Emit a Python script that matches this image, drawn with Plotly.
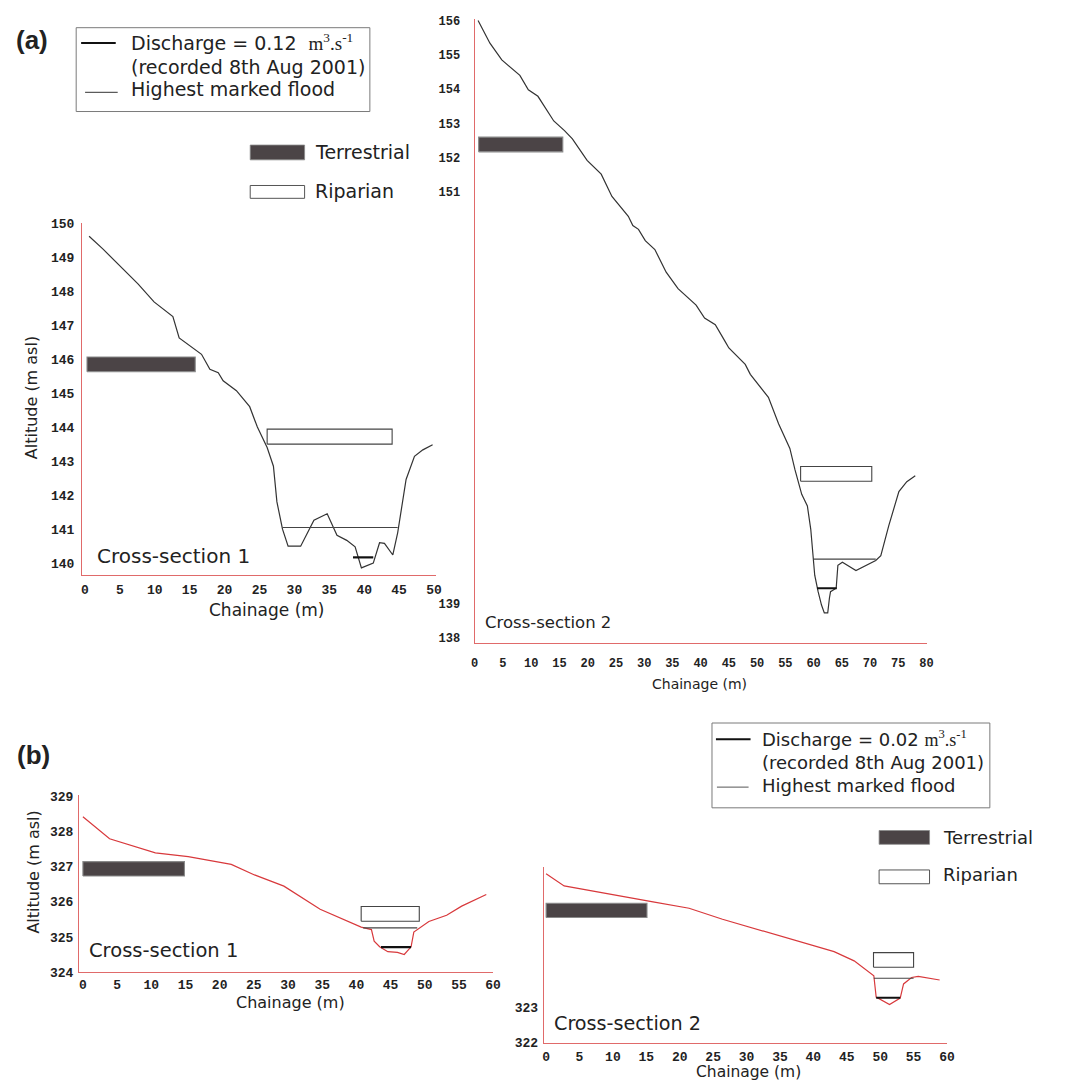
import plotly.graph_objects as go

W, H = 1073, 1091

# ---------------- data ----------------
# (a) Cross-section 1
a1_chainage = [0.6, 2.6, 7.6, 9.9, 12.6, 13.5, 16.7, 17.9, 19.1, 19.8, 21.7, 23.6, 24.7, 26.1, 27.0,
               27.5, 28.3, 29.1, 30.9, 32.8, 34.7, 36.1, 37.5, 38.7, 39.6, 41.3, 42.2, 42.9, 44.1,
               44.8, 46.0, 47.2, 48.4, 49.8]
a1_altitude = [149.61, 149.23, 148.21, 147.68, 147.25, 146.62, 146.14, 145.70, 145.60, 145.36, 145.07,
               144.60, 144.00, 143.40, 142.85, 141.80, 141.00, 140.50, 140.50, 141.26, 141.45, 140.82,
               140.67, 140.48, 139.86, 140.00, 140.60, 140.58, 140.24, 140.90, 142.46, 143.14, 143.33,
               143.48]
a1_flood = [28.3, 44.8, 141.05]
a1_discharge = [38.4, 41.3, 140.17]
a1_terrestrial = [0.3, 15.8, 145.63, 146.06]
a1_riparian = [26.1, 44.0, 143.50, 143.94]
a1_xticks = [0, 5, 10, 15, 20, 25, 30, 35, 40, 45, 50]
a1_yticks = [140, 141, 142, 143, 144, 145, 146, 147, 148, 149, 150]

# (a) Cross-section 2
a2_chainage = [0.6, 2.7, 4.8, 8.0, 9.5, 11.2, 14.0, 15.9, 17.3, 19.9, 22.4, 24.3, 27.2, 28.0, 29.0,
               30.2, 31.9, 33.9, 36.0, 39.2, 40.7, 42.6, 44.3, 45.0, 47.9, 48.8, 52.0, 53.8, 55.8,
               56.7, 57.9, 58.9, 59.5, 59.9, 60.2, 60.8, 61.4, 61.9, 62.5, 62.8, 63.0, 64.0, 64.3,
               65.1, 67.5, 71.0, 71.9, 73.3, 75.1, 76.5, 78.0]
a2_altitude = [156.00, 155.34, 154.85, 154.40, 153.98, 153.79, 153.07, 152.79, 152.55, 151.92, 151.52,
               150.87, 150.29, 150.02, 149.91, 149.58, 149.32, 148.66, 148.18, 147.70, 147.32, 147.13,
               146.65, 146.45, 145.97, 145.68, 145.01, 144.24, 143.52, 142.90, 142.18, 141.84, 141.16,
               140.39, 139.82, 139.34, 138.95, 138.72, 138.72, 139.15, 139.34, 139.44, 140.11, 140.20,
               139.96, 140.25, 140.39, 141.26, 142.26, 142.55, 142.72]
a2_flood = [59.9, 71.0, 140.29]
a2_discharge = [60.6, 64.1, 139.44]
a2_terrestrial = [0.7, 15.6, 152.17, 152.60]
a2_riparian = [57.7, 70.3, 142.56, 142.99]
a2_xticks = [0, 5, 10, 15, 20, 25, 30, 35, 40, 45, 50, 55, 60, 65, 70, 75, 80]
a2_yticks = [138, 139, 151, 152, 153, 154, 155, 156]

# (b) Cross-section 1
b1_chainage = [0.0, 3.9, 10.6, 15.4, 21.7, 25.1, 29.4, 34.7, 40.7, 42.2, 42.6, 43.4, 44.6, 46.0,
               47.0, 48.0, 48.4, 48.9, 50.6, 53.2, 55.4, 59.0]
b1_altitude = [328.43, 327.80, 327.40, 327.29, 327.07, 326.77, 326.45, 325.79, 325.28, 325.21, 324.88,
               324.72, 324.58, 324.56, 324.50, 324.72, 325.14, 325.21, 325.44, 325.62, 325.88, 326.21]
b1_flood = [41.0, 48.9, 325.26]
b1_discharge = [43.6, 48.0, 324.71]
b1_terrestrial = [0.0, 14.85, 326.74, 327.15]
b1_riparian = [40.7, 49.2, 325.45, 325.87]
b1_xticks = [0, 5, 10, 15, 20, 25, 30, 35, 40, 45, 50, 55, 60]
b1_yticks = [324, 325, 326, 327, 328, 329]

# (b) Cross-section 2
b2_chainage = [0.0, 2.7, 16.0, 21.4, 26.4, 37.7, 43.1, 46.1, 49.05, 49.4, 51.4, 53.0, 53.5, 54.7,
               55.7, 58.9]
b2_altitude = [326.75, 326.41, 325.96, 325.78, 325.47, 324.84, 324.56, 324.30, 323.88, 323.28, 323.07,
               323.25, 323.65, 323.83, 323.86, 323.76]
b2_flood = [49.05, 55.0, 323.81]
b2_discharge = [49.4, 53.0, 323.26]
b2_terrestrial = [0.0, 15.1, 325.52, 325.92]
b2_riparian = [49.0, 55.0, 324.12, 324.53]
b2_xticks = [0, 5, 10, 15, 20, 25, 30, 35, 40, 45, 50, 55, 60]
b2_yticks = [322, 323]

# ---------------- styles ----------------
AXIS_RED = "#e06a6a"
PROFILE_DARK = "#333333"
PROFILE_RED = "#d8393c"
TERR_FILL = "#4b4446"
TEXT = "#222222"
SANS = "DejaVu Sans"
MONO = "Liberation Mono"


def px(x):
    return x / W


def py(y):
    return 1 - y / H


fig = go.Figure()


def add_panel(idx, chain, alt, flood, discharge, terr, rip, prof_color):
    xa = "x" if idx == 1 else f"x{idx}"
    ya = "y" if idx == 1 else f"y{idx}"
    for r, fill, lc in [(terr, TERR_FILL, "#8a8a8a"), (rip, "white", "#444444")]:
        fig.add_trace(go.Scatter(
            x=[r[0], r[1], r[1], r[0], r[0]], y=[r[2], r[2], r[3], r[3], r[2]],
            mode="lines", fill="toself", fillcolor=fill, line=dict(color=lc, width=1.1),
            xaxis=xa, yaxis=ya, showlegend=False, hoverinfo="skip"))
    fig.add_trace(go.Scatter(x=chain, y=alt, mode="lines",
                             line=dict(color=prof_color, width=1.2),
                             xaxis=xa, yaxis=ya, showlegend=False))
    fig.add_trace(go.Scatter(x=[flood[0], flood[1]], y=[flood[2], flood[2]], mode="lines",
                             line=dict(color="#444444", width=1.1),
                             xaxis=xa, yaxis=ya, showlegend=False))
    fig.add_trace(go.Scatter(x=[discharge[0], discharge[1]], y=[discharge[2], discharge[2]],
                             mode="lines", line=dict(color="#111111", width=2.2),
                             xaxis=xa, yaxis=ya, showlegend=False))


add_panel(1, a1_chainage, a1_altitude, a1_flood, a1_discharge, a1_terrestrial, a1_riparian, PROFILE_DARK)
add_panel(2, a2_chainage, a2_altitude, a2_flood, a2_discharge, a2_terrestrial, a2_riparian, PROFILE_DARK)
add_panel(3, b1_chainage, b1_altitude, b1_flood, b1_discharge, b1_terrestrial, b1_riparian, PROFILE_RED)
add_panel(4, b2_chainage, b2_altitude, b2_flood, b2_discharge, b2_terrestrial, b2_riparian, PROFILE_RED)


def axis(domain, rng, ticks, anchor, size=12, standoff=3):
    return dict(domain=domain, range=rng, tickvals=ticks, ticktext=[str(t) for t in ticks],
                anchor=anchor, showline=True, linecolor=AXIS_RED, linewidth=1.3, ticks="",
                showgrid=False, zeroline=False, mirror=False, ticklabelstandoff=standoff,
                tickfont=dict(family=MONO, size=size, color=TEXT, weight="bold"))


fig.update_layout(
    width=W, height=H, margin=dict(l=0, r=0, t=0, b=0),
    paper_bgcolor="white", plot_bgcolor="rgba(0,0,0,0)", showlegend=False,
    xaxis=axis([px(79), px(437)], [-0.4, 50.3], a1_xticks, "y", 13, 2),
    yaxis=axis([py(577), py(220)], [139.65, 150.0], a1_yticks, "x", 13, 4),
    xaxis2=axis([px(476), px(933)], [0, 80], a2_xticks, "y2", 12, 8),
    yaxis2=axis([py(646), py(13)], [137.84, 156.05], a2_yticks, "x2", 12, 11),
    xaxis3=axis([px(76), px(495)], [-0.55, 60.05], b1_xticks, "y3", 13, 0),
    yaxis3=axis([py(979.5), py(800)], [324.0, 329.05], b1_yticks, "x3", 13, 2),
    xaxis4=axis([px(546), px(954)], [-0.33, 60.05], b2_xticks, "y4", 13, 1),
    yaxis4=axis([py(1051.7), py(872.7)], [321.98, 326.95], b2_yticks, "x4", 13, 2),
)

ann = []


def text(x, y, s, size, xanchor="left", angle=0, family=SANS, color=TEXT):
    ann.append(dict(x=px(x), y=py(y), xref="paper", yref="paper", text=s, showarrow=False,
                    xanchor=xanchor, yanchor="middle", textangle=angle,
                    font=dict(family=family, size=size, color=color)))


text(10, 34, "<b>(a)</b>", 26, family="Liberation Sans")
text(11, 759, "<b>(b)</b>", 26, family="Liberation Sans")

text(28, 397, "Altitude (m asl)", 16, xanchor="center", angle=-90)
text(30, 878, "Altitude (m asl)", 16, xanchor="center", angle=-90)
text(265, 612, "Chainage (m)", 17, xanchor="center")
text(703, 687, "Chainage (m)", 14, xanchor="center")
text(290, 1010, "Chainage (m)", 16, xanchor="center")
text(753, 1081, "Chainage (m)", 15.5, xanchor="center")

text(92, 558, "Cross-section 1", 20)
text(484, 625, "Cross-section 2", 16.5)
text(84, 958, "Cross-section 1", 19.5)
text(554, 1032, "Cross-section 2", 19.2)

SERIF = "<span style='font-family:Liberation Serif'>m<sup>3</sup>.s<sup>-1</sup></span>"

text(126, 37, "Discharge = 0.12  " + SERIF, 19)
text(126, 62, "(recorded 8th Aug 2001)", 19)
text(126, 84, "Highest marked flood", 19)
text(313, 148, "Terrestrial", 19)
text(313, 188, "Riparian", 19)

text(765, 743, "Discharge = 0.02 " + SERIF, 18)
text(765, 767, "(recorded 8th Aug 2001)", 18)
text(765, 790, "Highest marked flood", 18)
text(948, 843, "Terrestrial", 18)
text(948, 881, "Riparian", 18)

fig.update_layout(annotations=ann)

shapes = []


def rect(x0, y0, x1, y1, fill, lc, lw=1):
    shapes.append(dict(type="rect", xref="paper", yref="paper", x0=px(x0), x1=px(x1),
                       y0=py(y1), y1=py(y0), fillcolor=fill, line=dict(color=lc, width=lw)))


def hline(x0, x1, y, color, width):
    shapes.append(dict(type="line", xref="paper", yref="paper", x0=px(x0), x1=px(x1),
                       y0=py(y), y1=py(y), line=dict(color=color, width=width)))


rect(73, 22, 370, 107, "rgba(0,0,0,0)", "#7a7a7a", 1)
hline(78, 113, 37.5, "#111111", 2)
hline(82, 115, 87.5, "#333333", 1)
rect(249, 141, 304, 156, TERR_FILL, "#8a8a8a", 0.8)
rect(249, 182, 304, 195, "white", "#555555", 1)

rect(716, 727, 997, 813, "rgba(0,0,0,0)", "#7a7a7a", 1)
hline(720, 755, 743.5, "#111111", 2)
hline(721, 753, 792, "#555555", 1)
rect(885, 836, 936, 850, TERR_FILL, "#8a8a8a", 0.8)
rect(885, 876, 936, 890, "white", "#555555", 1)

fig.update_layout(shapes=shapes)

fig.write_html("out.html", config={"displayModeBar": False},
               post_script="document.body.style.margin='0';document.body.style.padding='0';")
